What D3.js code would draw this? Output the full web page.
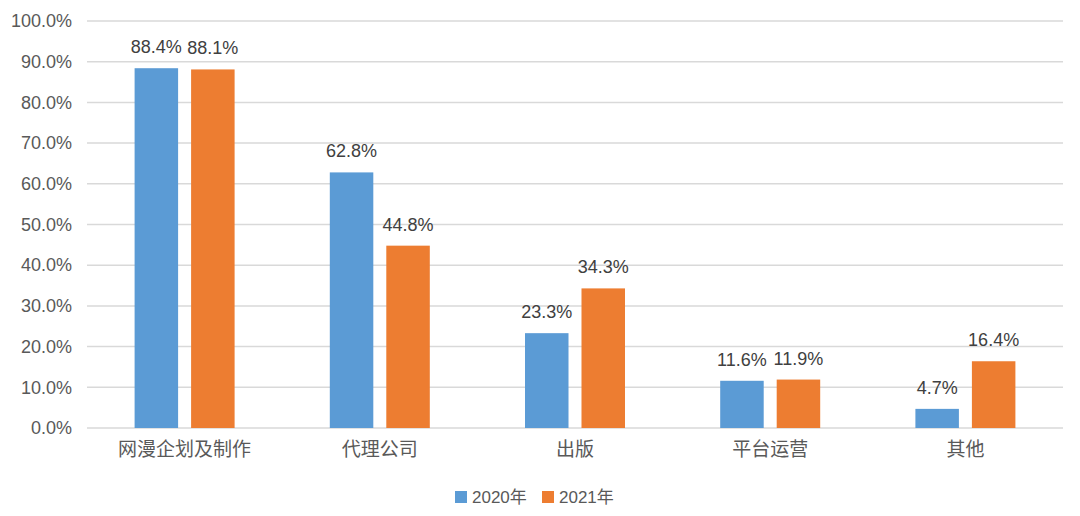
<!DOCTYPE html>
<html>
<head>
<meta charset="utf-8">
<script src="https://cdn.jsdelivr.net/npm/d3@7"></script>
<style>
  body { margin: 0; background: #fff; }
  svg text { font-family: "Liberation Sans", "Noto Sans CJK SC", sans-serif; }
</style>
</head>
<body>
<div class="chart"></div>
<script>
// data
var categories = ["网漫企划及制作", "代理公司", "出版", "平台运营", "其他"];
var seriesNames = ["2020年", "2021年"];
var values2020 = [88.4, 62.8, 23.3, 11.6, 4.7];
var values2021 = [88.1, 44.8, 34.3, 11.9, 16.4];
var yTicks = [0, 10, 20, 30, 40, 50, 60, 70, 80, 90, 100];
var colors = ["#5b9bd5", "#ed7d31"];

var svgWidth = 1080, svgHeight = 516;
var margin = {top: 21, right: 17, bottom: 88, left: 87};
var width = svgWidth - margin.left - margin.right;
var height = svgHeight - margin.top - margin.bottom;

var svg = d3.select(".chart")
  .append("svg")
  .attr("width", svgWidth)
  .attr("height", svgHeight);

var chart = svg.append("g")
  .attr("transform", `translate(${margin.left}, ${margin.top})`);

var x = d3.scaleBand().domain(categories).range([0, width]);
var x1 = d3.scaleBand().domain(seriesNames).range([x.bandwidth()/2 - 50, x.bandwidth()/2 + 50]).paddingInner(0.23);
var y = d3.scaleLinear().domain([0, 100]).range([height, 0]);

// gridlines
chart.append("g")
  .selectAll("line")
  .data(yTicks)
  .enter()
  .append("line")
  .attr("x1", 0)
  .attr("x2", width)
  .attr("y1", d => y(d))
  .attr("y2", d => y(d))
  .attr("stroke", "#d9d9d9")
  .attr("stroke-width", 1.5);

// y axis labels
var leftAxis = d3.axisLeft(y).tickValues(yTicks).tickSize(0).tickPadding(15)
  .tickFormat(d => d.toFixed(1) + "%");
var yAxis = chart.append("g").call(leftAxis);
yAxis.select(".domain").remove();
yAxis.selectAll("text").attr("font-size", "18px").attr("fill", "#595959");

// x axis labels
var bottomAxis = d3.axisBottom(x).tickSize(0).tickPadding(15);
var xAxis = chart.append("g").attr("transform", `translate(0,${height})`).call(bottomAxis);
xAxis.select(".domain").remove();
xAxis.selectAll("text").attr("font-size", "19px").attr("fill", "#595959");

// bars
var rows = categories.map((c, i) => ({cat: c, vals: [values2020[i], values2021[i]]}));
var groups = chart.selectAll(".cat")
  .data(rows)
  .enter()
  .append("g")
  .attr("transform", d => `translate(${x(d.cat)},0)`);

groups.selectAll("rect")
  .data(d => d.vals.map((v, j) => ({name: seriesNames[j], v: v, j: j})))
  .enter()
  .append("rect")
  .attr("x", d => x1(d.name))
  .attr("width", x1.bandwidth())
  .attr("y", d => y(d.v))
  .attr("height", d => height - y(d.v))
  .attr("fill", d => colors[d.j]);

groups.selectAll(".lbl")
  .data(d => d.vals.map((v, j) => ({name: seriesNames[j], v: v, j: j})))
  .enter()
  .append("text")
  .attr("x", d => x1(d.name) + x1.bandwidth()/2)
  .attr("y", d => y(d.v) - 15)
  .attr("text-anchor", "middle")
  .attr("font-size", "18px")
  .attr("fill", "#404040")
  .text(d => d.v.toFixed(1) + "%");

// legend
var legend = svg.append("g").attr("transform", "translate(455, 497)");
var legendX = [0, 87];
seriesNames.forEach(function(name, i) {
  var item = legend.append("g").attr("transform", `translate(${legendX[i]},0)`);
  item.append("rect").attr("x", 0).attr("y", -6).attr("width", 12).attr("height", 12).attr("fill", colors[i]);
  item.append("text").attr("x", 17).attr("y", 6).attr("font-size", "17px").attr("fill", "#595959").text(name);
});
</script>
</body>
</html>
